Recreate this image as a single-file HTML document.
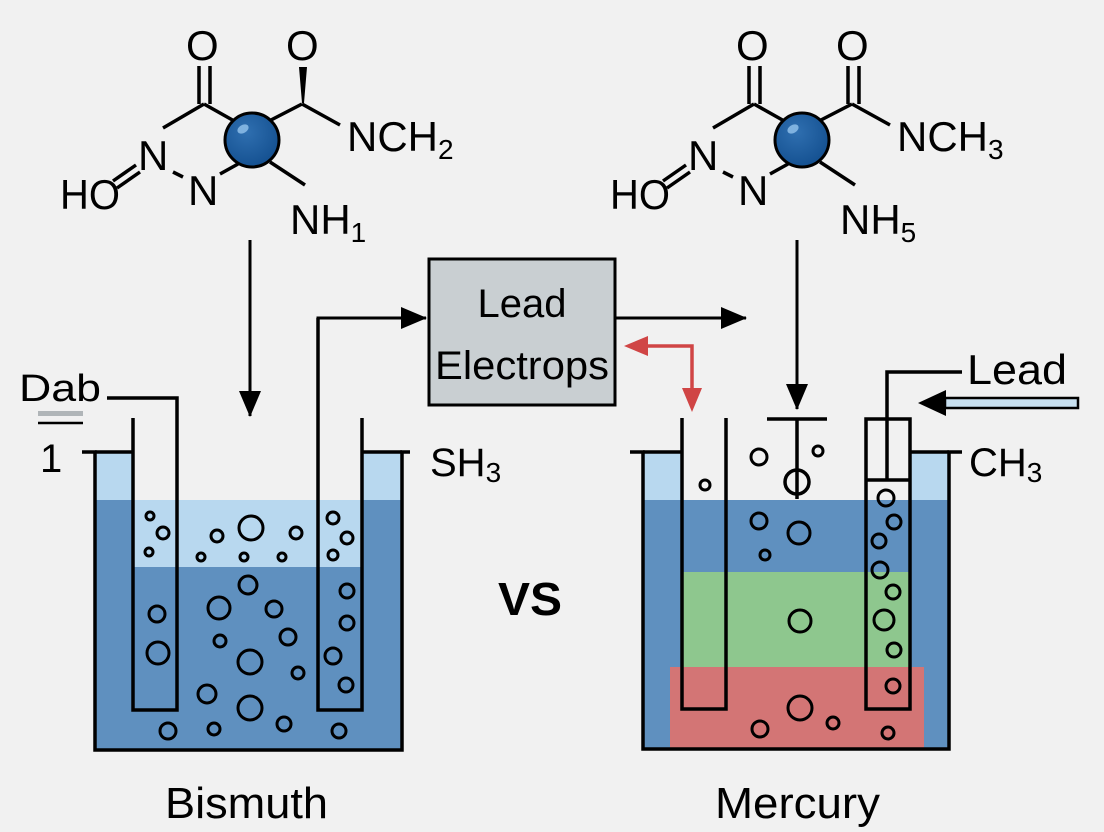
<!DOCTYPE html>
<html><head><meta charset="utf-8"><style>
html,body{margin:0;padding:0;background:#f1f1f1;}
svg{display:block;font-family:"Liberation Sans",sans-serif;}
</style></head><body>
<svg width="1104" height="832" viewBox="0 0 1104 832" xmlns="http://www.w3.org/2000/svg">
<rect width="1104" height="832" fill="#f1f1f1"/>
<defs>
<radialGradient id="ball" cx="0.4" cy="0.35" r="0.7"><stop offset="0" stop-color="#2f6fb0"/><stop offset="1" stop-color="#134f8f"/></radialGradient>
<marker id="ah" markerWidth="26" markerHeight="22" refX="25" refY="11" orient="auto" markerUnits="userSpaceOnUse"><path d="M0,0 L26,11 L0,22 z" fill="#000"/></marker>
</defs>
<!-- molecules -->
<g stroke="#000" stroke-width="3.5" fill="none">
<line x1="199" y1="66" x2="199" y2="104"/><line x1="210" y1="66" x2="210" y2="104"/>
<line x1="163" y1="128" x2="204" y2="104"/><line x1="204" y1="104" x2="236" y2="122"/>
<line x1="117" y1="188" x2="140" y2="172"/><line x1="113" y1="181" x2="136" y2="165"/>
<line x1="173" y1="172" x2="183" y2="177"/><line x1="220" y1="174" x2="238" y2="164"/>
<line x1="270" y1="162" x2="305" y2="185"/><line x1="271" y1="120" x2="302" y2="104"/>
<line x1="302" y1="104" x2="340" y2="125"/>
</g>
<polygon points="299,67 307,67 304,103 302,103" fill="#000"/>
<circle cx="252" cy="140" r="27" fill="url(#ball)" stroke="#000" stroke-width="3"/>
<ellipse cx="243" cy="129" rx="6" ry="4" fill="#7fb2e0" transform="rotate(-30 243 129)"/>
<g font-size="42" fill="#000">
<text x="186" y="60">O</text><text x="286" y="60">O</text>
<text x="138" y="170">N</text><text x="188" y="205">N</text>
<text x="60" y="209" textLength="60" lengthAdjust="spacingAndGlyphs">HO</text>
<text x="347" y="151">NCH<tspan font-size="28" dy="8">2</tspan></text>
<text x="290" y="234">NH<tspan font-size="28" dy="8">1</tspan></text>
</g>
<g transform="translate(550,0)">
<g stroke="#000" stroke-width="3.5" fill="none">
<line x1="199" y1="66" x2="199" y2="104"/><line x1="210" y1="66" x2="210" y2="104"/>
<line x1="163" y1="128" x2="204" y2="104"/><line x1="204" y1="104" x2="236" y2="122"/>
<line x1="117" y1="188" x2="140" y2="172"/><line x1="113" y1="181" x2="136" y2="165"/>
<line x1="173" y1="172" x2="183" y2="177"/><line x1="220" y1="174" x2="238" y2="164"/>
<line x1="270" y1="162" x2="305" y2="185"/><line x1="271" y1="120" x2="302" y2="104"/>
<line x1="302" y1="104" x2="340" y2="125"/>
<line x1="298" y1="66" x2="298" y2="104"/><line x1="309" y1="66" x2="309" y2="104"/>
</g>
<circle cx="252" cy="140" r="27" fill="url(#ball)" stroke="#000" stroke-width="3"/>
<ellipse cx="243" cy="129" rx="6" ry="4" fill="#7fb2e0" transform="rotate(-30 243 129)"/>
<g font-size="42" fill="#000">
<text x="186" y="60">O</text><text x="286" y="60">O</text>
<text x="138" y="170">N</text><text x="188" y="205">N</text>
<text x="60" y="209" textLength="60" lengthAdjust="spacingAndGlyphs">HO</text>
<text x="347" y="151">NCH<tspan font-size="28" dy="8">3</tspan></text>
<text x="290" y="234">NH<tspan font-size="28" dy="8">5</tspan></text>
</g>
</g>
<!-- arrows -->
<g stroke="#000" stroke-width="3" fill="none">
<line x1="250" y1="240" x2="250" y2="416" marker-end="url(#ah)"/>
<line x1="797" y1="240" x2="797" y2="409" marker-end="url(#ah)"/>
<polyline points="318,700 318,318 426,318" marker-end="url(#ah)"/>
<line x1="616" y1="318" x2="746" y2="318" marker-end="url(#ah)"/>
</g>
<!-- box -->
<rect x="429" y="259" width="186" height="146" fill="#c9cfd2" stroke="#000" stroke-width="3"/>
<text x="522" y="317" font-size="40" text-anchor="middle">Lead</text>
<text x="435" y="379" font-size="40" textLength="174" lengthAdjust="spacingAndGlyphs">Electrops</text>
<!-- red arrow -->
<polyline points="642,346 692,346 692,392" fill="none" stroke="#d04545" stroke-width="3.5"/>
<path d="M624,346 L648,336 L648,356 z" fill="#d04545"/>
<path d="M692,412 L682,388 L702,388 z" fill="#d04545"/>
<!-- left beaker -->
<rect x="95" y="452" width="38" height="48" fill="#b8d8ef"/>
<rect x="362" y="452" width="40" height="48" fill="#b8d8ef"/>
<rect x="133" y="500" width="229" height="67" fill="#b8d8ef"/>
<rect x="95" y="500" width="38" height="250" fill="#5f90bf"/>
<rect x="362" y="500" width="40" height="250" fill="#5f90bf"/>
<rect x="133" y="567" width="229" height="183" fill="#5f90bf"/>
<g stroke="#000" stroke-width="3.5" fill="none">
<polyline points="82,452 95,452 95,750 402,750 402,452 410,452"/>
<line x1="95" y1="452" x2="133" y2="452"/>
<line x1="362" y1="452" x2="402" y2="452"/>
<polyline points="133,418 133,710 177,710 177,398 107,398"/>
<polyline points="318,318 318,710 362,710 362,418"/>
</g>
<text x="19" y="401" font-size="38" textLength="82" lengthAdjust="spacingAndGlyphs">Dab</text>
<rect x="38" y="411" width="45" height="5" fill="#b0b5b8"/>
<line x1="38" y1="423" x2="83" y2="423" stroke="#000" stroke-width="2.5"/>
<text x="40" y="472" font-size="40">1</text>
<text x="430" y="476" font-size="40">SH<tspan font-size="28" dy="6">3</tspan></text>
<g stroke="#000" stroke-width="3" fill="none">
<circle cx="150" cy="516" r="4"/><circle cx="163" cy="533" r="6"/><circle cx="149" cy="552" r="4"/>
<circle cx="217" cy="536" r="6"/><circle cx="251" cy="528" r="12"/><circle cx="296" cy="533" r="6"/>
<circle cx="201" cy="557" r="4"/><circle cx="244" cy="557" r="4"/><circle cx="282" cy="557" r="4"/>
<circle cx="333" cy="518" r="6"/><circle cx="347" cy="538" r="6"/><circle cx="333" cy="555" r="5"/>
<circle cx="157" cy="614" r="8"/><circle cx="158" cy="653" r="11"/><circle cx="248" cy="585" r="9"/>
<circle cx="219" cy="608" r="11"/><circle cx="274" cy="609" r="8"/><circle cx="220" cy="641" r="6"/>
<circle cx="288" cy="637" r="8"/><circle cx="250" cy="662" r="12"/><circle cx="298" cy="673" r="6"/>
<circle cx="333" cy="656" r="8"/><circle cx="347" cy="623" r="7"/><circle cx="347" cy="591" r="7"/>
<circle cx="346" cy="685" r="7"/><circle cx="207" cy="694" r="9"/><circle cx="250" cy="708" r="12"/>
<circle cx="284" cy="724" r="7"/><circle cx="214" cy="729" r="6"/><circle cx="168" cy="731" r="8"/>
<circle cx="339" cy="731" r="7"/>
</g>
<!-- right beaker -->
<rect x="643" y="452" width="39" height="48" fill="#b8d8ef"/>
<rect x="910" y="452" width="39" height="48" fill="#b8d8ef"/>
<rect x="643" y="500" width="306" height="249" fill="#5f90bf"/>
<rect x="682" y="572" width="228" height="95" fill="#8ec78e"/>
<rect x="670" y="667" width="254" height="82" fill="#d37575"/>
<rect x="866" y="419" width="44" height="61" fill="#f1f1f1"/>
<g stroke="#000" stroke-width="3.5" fill="none">
<polyline points="630,452 643,452 643,749 949,749 949,452 962,452"/>
<line x1="643" y1="452" x2="682" y2="452"/>
<line x1="910" y1="452" x2="949" y2="452"/>
<polyline points="682,418 682,709 726,709 726,418"/>
<rect x="866" y="419" width="44" height="290"/>
<line x1="866" y1="480" x2="910" y2="480"/>
<polyline points="887,480 887,372 962,372"/>
<line x1="767" y1="419" x2="827" y2="419"/>
<line x1="797" y1="419" x2="797" y2="499"/>
<circle cx="797" cy="482" r="12"/>
</g>
<rect x="945" y="398" width="133" height="10" fill="#c8e0f0" stroke="#000" stroke-width="2.5"/>
<path d="M918,403 L946,390 L946,416 z" fill="#000"/>
<text x="967" y="384" font-size="42" textLength="100" lengthAdjust="spacingAndGlyphs">Lead</text>
<text x="969" y="476" font-size="40">CH<tspan font-size="28" dy="6">3</tspan></text>
<g stroke="#000" stroke-width="3" fill="none">
<circle cx="759" cy="457" r="8"/><circle cx="818" cy="451" r="5"/><circle cx="705" cy="485" r="5"/>
<circle cx="759" cy="521" r="8"/><circle cx="799" cy="533" r="11"/><circle cx="765" cy="555" r="5"/>
<circle cx="886" cy="498" r="8"/><circle cx="894" cy="522" r="7"/><circle cx="879" cy="541" r="7"/>
<circle cx="880" cy="570" r="8"/><circle cx="893" cy="592" r="7"/><circle cx="884" cy="620" r="10"/>
<circle cx="894" cy="650" r="7"/><circle cx="893" cy="686" r="7"/><circle cx="800" cy="621" r="11"/>
<circle cx="800" cy="708" r="12"/><circle cx="833" cy="723" r="6"/><circle cx="760" cy="729" r="8"/>
<circle cx="888" cy="733" r="6"/>
</g>
<text x="498" y="615" font-size="46" font-weight="bold" textLength="64" lengthAdjust="spacingAndGlyphs">VS</text>
<text x="165" y="818" font-size="44" textLength="163" lengthAdjust="spacingAndGlyphs">Bismuth</text>
<text x="715" y="818" font-size="44" textLength="165" lengthAdjust="spacingAndGlyphs">Mercury</text>
</svg>
</body></html>
